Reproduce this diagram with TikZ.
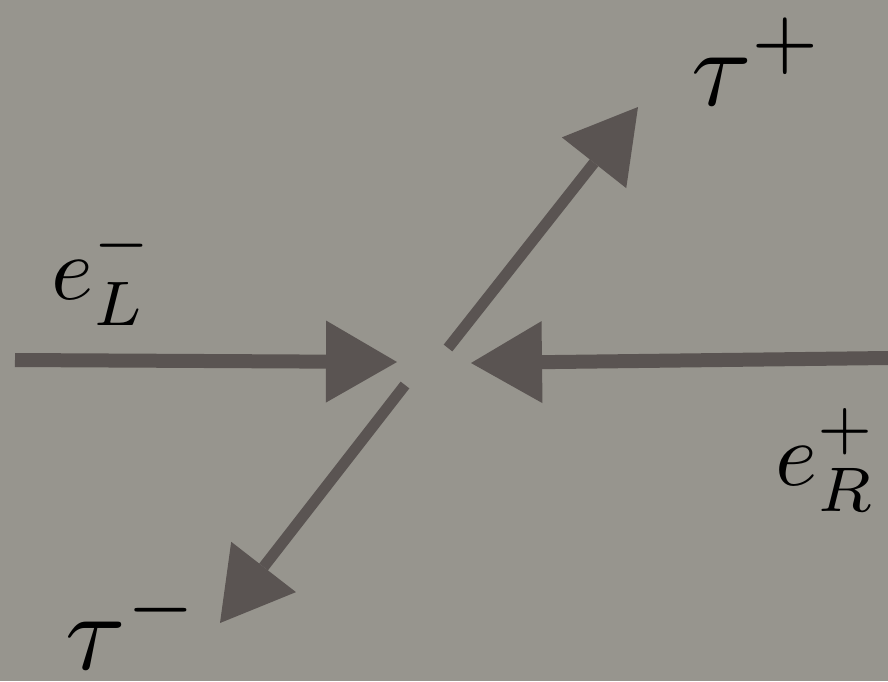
\documentclass[tikz,border=0pt]{standalone}
\usetikzlibrary{arrows.meta}
\definecolor{bg}{HTML}{97958E}
\definecolor{ink}{HTML}{5A5452}
\begin{document}
\begin{tikzpicture}[x=1pt,y=-1pt,
  shaft/.style={draw=ink,line width=14pt,-{Triangle[length=71pt,width=82pt,line width=0pt]},fill=ink},
  elabel/.style={inner sep=0pt,scale=9},
  tlabel/.style={inner sep=0pt,scale=11}]
\fill[bg] (0,0) rectangle (888,681);
\useasboundingbox (0,0) rectangle (888,681);
% arrow end points
\coordinate (lstart) at (15,360);
\coordinate (ltip) at (397,362);
\coordinate (rstart) at (888,358);
\coordinate (rtip) at (471,363);
\coordinate (ustart) at (448,348);
\coordinate (utip) at (638,107);
\coordinate (dstart) at (405,385);
\coordinate (dtip) at (220,623);
\draw[shaft] (lstart) -- (ltip);
\draw[shaft] (rstart) -- (rtip);
\draw[shaft,line width=11pt] (ustart) -- (utip);
\draw[shaft,line width=11pt] (dstart) -- (dtip);
% labels
\node[elabel] (eL) at (103,274) {$e_L^-$};
\node[elabel] (eR) at (826,460) {$e_R^+$};
\node[tlabel] (tp) at (758,62) {$\tau^+$};
\node[tlabel] (tm) at (133,626) {$\tau^-$};
\end{tikzpicture}
\end{document}
